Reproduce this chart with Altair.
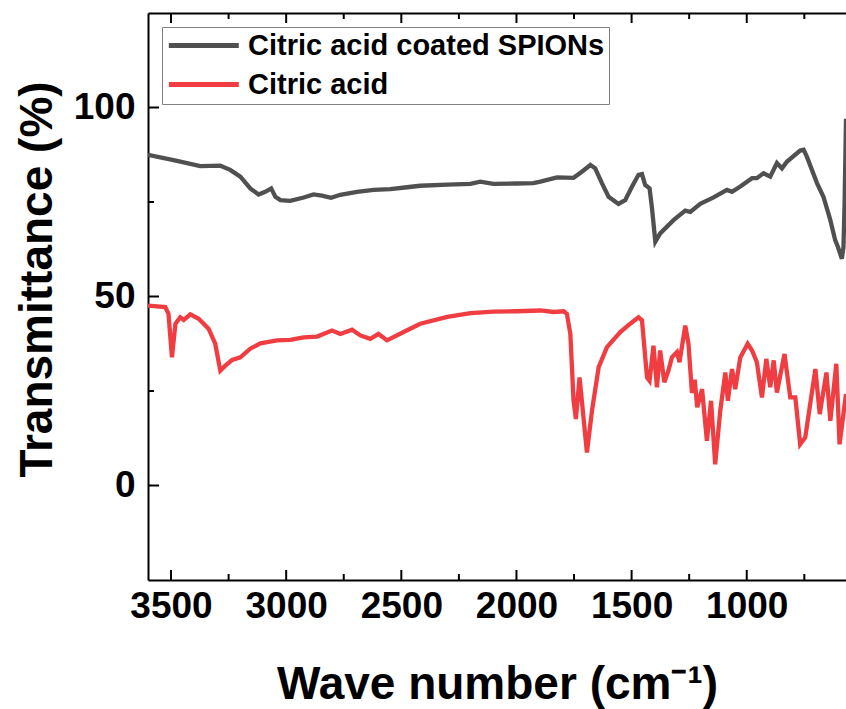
import altair as alt
import pandas as pd

# ---- data ----
series_names = ["Citric acid coated SPIONs", "Citric acid"]
series_colors = ["#505050", "#ef3d42"]

wn_spion = [3600, 3489, 3373, 3286, 3243, 3199, 3156, 3120, 3091, 3065, 3047, 3025,
            2982, 2924, 2881, 2845, 2805, 2765, 2692, 2620, 2548, 2475, 2418, 2300,
            2200, 2157, 2100, 2000, 1927, 1896, 1824, 1752, 1716, 1679, 1658, 1629,
            1600, 1557, 1528, 1498, 1470, 1455, 1441, 1422, 1412, 1397, 1376, 1318,
            1267, 1245, 1202, 1144, 1086, 1064, 1028, 977, 956, 927, 898, 869, 847,
            825, 768, 753, 739, 695, 667, 637, 616, 604, 587, 580, 575, 569]
t_spion = [87.5, 86.1, 84.5, 84.6, 83.5, 81.7, 78.6, 77.0, 77.7, 78.6, 76.4, 75.5,
           75.3, 76.2, 77.0, 76.7, 76.1, 76.9, 77.7, 78.2, 78.4, 78.9, 79.3, 79.6,
           79.8, 80.4, 79.8, 79.9, 80.0, 80.4, 81.5, 81.4, 83.0, 84.8, 83.9, 80.0,
           76.4, 74.5, 75.5, 79.1, 82.2, 82.4, 79.5, 78.6, 73.7, 64.5, 66.7, 70.2,
           72.7, 72.4, 74.5, 76.2, 78.2, 77.7, 79.1, 81.3, 81.3, 82.6, 81.7, 85.3, 83.9,
           85.7, 88.6, 88.8, 87.0, 80.0, 76.4, 70.2, 64.9, 63.1, 60.0, 63.0, 75.0, 97.0]

wn_citric = [3600, 3525, 3511, 3496, 3481, 3460, 3445, 3416, 3380, 3337, 3308, 3286,
             3264, 3235, 3199, 3156, 3112, 3040, 2982, 2924, 2866, 2801, 2765, 2714,
             2678, 2635, 2599, 2562, 2490, 2418, 2300, 2200, 2100, 2000, 1896, 1839,
             1795, 1781, 1766, 1752, 1742, 1726, 1716, 1694, 1672, 1643, 1607, 1549,
             1506, 1470, 1455, 1433, 1422, 1405, 1390, 1376, 1358, 1340, 1325, 1303,
             1292, 1267, 1253, 1238, 1226, 1215, 1194, 1173, 1155, 1137, 1115, 1093,
             1082, 1064, 1050, 1028, 996, 977, 956, 934, 915, 898, 883, 869, 836, 811,
             789, 768, 746, 702, 683, 654, 637, 611, 597, 569]
t_citric = [47.6, 47.2, 45.4, 33.9, 42.8, 44.5, 43.8, 45.3, 44.1, 41.5, 37.5, 30.4,
            31.7, 33.2, 33.9, 36.2, 37.6, 38.4, 38.5, 39.2, 39.4, 41.0, 40.1, 41.2,
            39.7, 38.8, 40.1, 38.4, 40.6, 42.8, 44.6, 45.6, 46.0, 46.1, 46.3, 45.9,
            46.1, 45.4, 40.1, 22.4, 17.6, 28.6, 22.4, 8.7, 19.8, 31.3, 36.6, 40.6,
            42.8, 44.5, 43.7, 28.6, 27.7, 37.0, 26.0, 35.7, 27.3, 30.4, 33.9, 35.3,
            32.6, 42.3, 37.5, 24.5, 28.0, 20.7, 25.5, 11.8, 22.4, 5.6, 19.8, 29.9,
            22.4, 30.8, 25.5, 33.9, 37.5, 35.7, 32.6, 23.3, 33.5, 26.0, 33.1, 24.6, 34.8, 23.3,
            23.3, 10.9, 12.7, 30.8, 18.9, 29.9, 17.1, 32.2, 10.9, 24.2]

x_labels = [3500, 3000, 2500, 2000, 1500, 1000]
x_minor = [3250, 2750, 2250, 1750, 1250, 750]
y_labels = [0, 50, 100]
y_minor = [25, 75]
x_domain = [3600, 569]
y_domain = [-25, 125]

df = pd.concat([
    pd.DataFrame({"wn": wn_spion, "t": t_spion, "series": series_names[0]}),
    pd.DataFrame({"wn": wn_citric, "t": t_citric, "series": series_names[1]}),
], ignore_index=True)

W, H = 698, 567
FONT = "Liberation Sans"
MAJ, MIN, TW = 10, 6, 2
TICK_COLOR = "black"

xscale = alt.Scale(domain=x_domain, nice=False, zero=False)
yscale = alt.Scale(domain=y_domain, nice=False, zero=False)

lines = alt.Chart(df).mark_line(strokeWidth=4.3, clip=True).encode(
    x=alt.X("wn:Q", scale=xscale, axis=alt.Axis(
        orient="bottom", values=x_labels, format="d", ticks=False, grid=False,
        domain=True, domainColor="black", domainWidth=2,
        labelFont=FONT, labelFontSize=37, labelFontWeight="bold", labelColor="black",
        labelPadding=8, labelFlush=False,
        title="Wave number (cm⁻¹)", titleFont=FONT, titleFontSize=46,
        titleFontWeight="bold", titleColor="black", titleX=W / 2, titleY=118,
        titleBaseline="alphabetic", titleAlign="center")),
    y=alt.Y("t:Q", scale=yscale, axis=alt.Axis(
        orient="left", values=y_labels, format="d", ticks=False, grid=False,
        domain=True, domainColor="black", domainWidth=2,
        labelFont=FONT, labelFontSize=37, labelFontWeight="bold", labelColor="black",
        labelPadding=13,
        title="Transmittance (%)", titleFont=FONT, titleFontSize=46,
        titleFontWeight="bold", titleColor="black", titleAngle=270,
        titleX=-97, titleY=266, titleBaseline="alphabetic", titleAlign="center")),
    color=alt.Color("series:N", sort=series_names,
                    scale=alt.Scale(domain=series_names, range=series_colors),
                    legend=alt.Legend(
                        orient="none", legendX=14, legendY=14, title=None,
                        direction="vertical", symbolType="M-1,0H5", symbolSize=544,
                        symbolStrokeWidth=5, labelFont=FONT, labelFontSize=29,
                        labelFontWeight="bold", labelColor="black", labelOffset=53,
                        labelLimit=700, padding=4, rowPadding=9,
                        strokeColor="#808080", fillColor="white")),
)

# top spine: a bottom-oriented axis moved to the top edge (domain line only)
top_spine = alt.Chart(df).mark_line(opacity=0).encode(
    x=alt.X("wn:Q", scale=xscale, axis=alt.Axis(
        orient="bottom", offset=-H, labels=False, ticks=False, grid=False,
        domain=True, domainColor="black", domainWidth=2, title=None)),
    y=alt.Y("t:Q", scale=yscale, axis=None),
    detail="series:N",
)


def xticks(vals, y0, y1):
    return alt.Chart(pd.DataFrame({"v": vals})).mark_rule(
        color=TICK_COLOR, strokeWidth=TW).encode(
        x=alt.X("v:Q", scale=xscale, axis=None),
        y=alt.value(y0), y2=alt.value(y1))


def yticks(vals, length):
    return alt.Chart(pd.DataFrame({"v": vals})).mark_rule(
        color=TICK_COLOR, strokeWidth=TW).encode(
        y=alt.Y("v:Q", scale=yscale, axis=None),
        x=alt.value(0), x2=alt.value(length))


tick_layers = [
    xticks(x_labels, H, H - MAJ), xticks(x_minor, H, H - MIN),   # bottom, inward
    xticks(x_labels, 0, MAJ), xticks(x_minor, 0, MIN),           # top, inward
    yticks(y_labels, MAJ + 1), yticks(y_minor, MIN),             # left, inward
]

chart = alt.layer(*tick_layers, lines, top_spine).resolve_axis(
    x="independent", y="independent"
).properties(
    width=W, height=H,
    autosize=alt.AutoSizeParams(type="none"),
    padding={"left": 148, "top": 13, "right": 0, "bottom": 129},
    background="white",
).configure_view(stroke=None)

chart.save("out.html", embed_options={"renderer": "svg", "actions": False})
